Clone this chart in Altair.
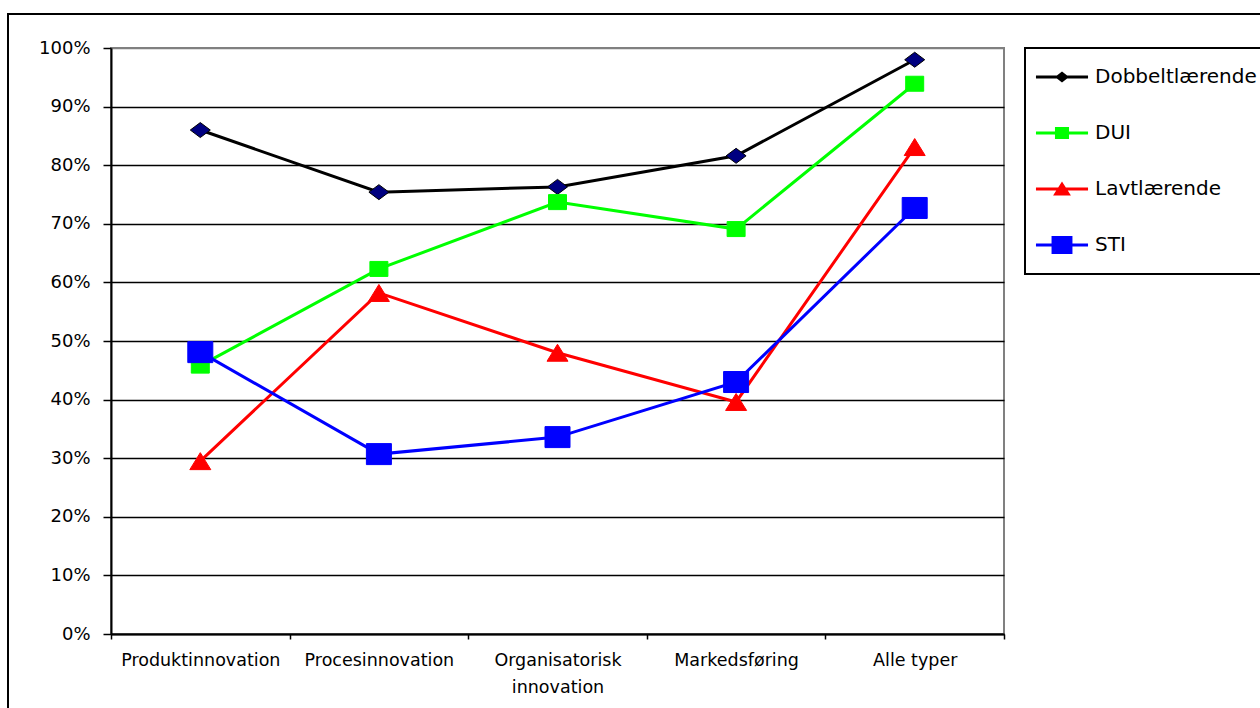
import altair as alt
import pandas as pd

# Innovation types (x categories) and learning-mode groups (series)
categories = ["Produktinnovation", "Procesinnovation", "Organisatorisk innovation",
              "Markedsføring", "Alle typer"]
series = ["Dobbeltlærende", "DUI", "Lavtlærende", "STI"]

# Share of firms per group and innovation type
dobbeltlaerende = [0.860, 0.754, 0.763, 0.816, 0.980]
dui = [0.458, 0.623, 0.737, 0.691, 0.939]
lavtlaerende = [0.295, 0.582, 0.480, 0.396, 0.831]
sti = [0.481, 0.307, 0.336, 0.430, 0.727]

y_ticks = [0.0, 0.1, 0.2, 0.3, 0.4, 0.5, 0.6, 0.7, 0.8, 0.9, 1.0]

line_colors = ["#000000", "#00FF00", "#FF0000", "#0000FF"]
marker_fills = ["#000080", "#00FF00", "#FF0000", "#0000FF"]
marker_strokes = ["#000000", "#00FF00", "#FF0000", "#0000FF"]

# Marker outlines in symbol units (drawn at size 400 -> 10 px per unit)
marker_paths = [
    "M0,-0.75L1,0L0,0.75L-1,0Z",
    "M-0.9,-0.75H0.9V0.75H-0.9Z",
    "M0,-0.85L1.05,0.85L-1.05,0.85Z",
    "M-1.25,-1.05H1.25V1.05H-1.25Z",
]
# Legend keys: a short line segment with the marker on top (size 1444 -> 19 px per unit).
# The two zero-area subpaths keep every key one full unit tall so rows stay evenly spaced.
key_line = "M0,-1L0,-1ZM0,1L0,1ZM-1.37,-0.08H1.37V0.08H-1.37Z"
legend_paths = [
    key_line + "M0,-0.29L0.37,0L0,0.29L-0.37,0Z",
    key_line + "M-0.37,-0.32H0.37V0.32H-0.37Z",
    key_line + "M0,-0.4L0.47,0.34L-0.47,0.34Z",
    key_line + "M-0.55,-0.47H0.55V0.47H-0.55Z",
]

values_by_series = [dobbeltlaerende, dui, lavtlaerende, sti]
rows = []
for name, vals in zip(series, values_by_series):
    for cat, v in zip(categories, vals):
        rows.append({"series": name, "category": cat, "value": v})
df = pd.DataFrame(rows)

FONT = "DejaVu Sans"

x_enc = alt.X(
    "category:N",
    sort=categories,
    bandPosition=0.5,
    scale=alt.Scale(type="band", domain=categories, paddingInner=0, paddingOuter=0),
    axis=alt.Axis(
        title=None, labelAngle=0, tickBand="extent", grid=False,
        labelExpr="datum.value == 'Organisatorisk innovation' ? ['Organisatorisk', 'innovation'] : datum.label",
        labelFont=FONT, labelFontSize=17.5, labelColor="black", labelLimit=300,
        labelPadding=12, labelLineHeight=27,
        domainColor="black", domainWidth=2,
        tickColor="black", tickWidth=1.5, tickSize=5,
    ),
)
y_enc = alt.Y(
    "value:Q",
    scale=alt.Scale(domain=[0, 1], nice=False),
    axis=alt.Axis(
        title=None, values=y_ticks, format=".0%",
        labelFont=FONT, labelFontSize=18, labelColor="black", labelPadding=13,
        domainColor="black", domainWidth=2,
        tickColor="black", tickWidth=1.5, tickSize=8,
        grid=True, gridWidth=1.3,
        gridColor={"condition": {"test": "datum.value === 1", "value": "#808080"}, "value": "black"},
    ),
)

base = alt.Chart(df)

frame = alt.Chart(alt.Data(values=[{}])).mark_rect(
    fill="transparent", stroke="black", strokeWidth=2
).encode(
    x=alt.value(-103), x2=alt.value(1160), y=alt.value(-34), y2=alt.value(680)
)

lines = base.mark_line(strokeWidth=3).encode(
    x=x_enc,
    y=y_enc,
    color=alt.Color("series:N", sort=series,
                    scale=alt.Scale(domain=series, range=line_colors), legend=None),
    detail="series:N",
)

points = base.mark_point(filled=True, size=400, strokeWidth=1, opacity=1).encode(
    x=x_enc,
    y=y_enc,
    color=alt.Color("series:N", sort=series,
                    scale=alt.Scale(domain=series, range=marker_fills), legend=None),
    stroke=alt.Stroke("series:N", sort=series,
                      scale=alt.Scale(domain=series, range=marker_strokes), legend=None),
    shape=alt.Shape("series:N", sort=series,
                    scale=alt.Scale(domain=series, range=marker_paths), legend=None),
)

legend_def = alt.Legend(
    title=None, orient="none", legendX=914, legendY=0,
    padding=10, symbolSize=1444, symbolOffset=8, labelOffset=14, rowPadding=18,
    labelFont=FONT, labelFontSize=20, labelColor="black", labelLimit=400,
    strokeColor="black", fillColor="white",
    symbolStrokeWidth=0, symbolOpacity=1,
)

legend_layer = base.mark_point(filled=True, size=1444, opacity=0).encode(
    x=x_enc,
    y=y_enc,
    color=alt.Color("series:N", sort=series,
                    scale=alt.Scale(domain=series, range=line_colors), legend=legend_def),
    shape=alt.Shape("series:N", sort=series,
                    scale=alt.Scale(domain=series, range=legend_paths), legend=legend_def),
)

chart = alt.layer(frame, lines, points, legend_layer).resolve_scale(
    color="independent", shape="independent", stroke="independent"
).properties(
    width=893,
    height=586,
    padding={"left": 111, "top": 48, "right": 256, "bottom": 74},
    autosize=alt.AutoSizeParams(type="none"),
    background="white",
).configure_view(
    stroke="#808080", strokeWidth=2
).configure_legend(
    strokeWidth=2
)

chart.save("out.html", embed_options={"renderer": "svg", "actions": False})
